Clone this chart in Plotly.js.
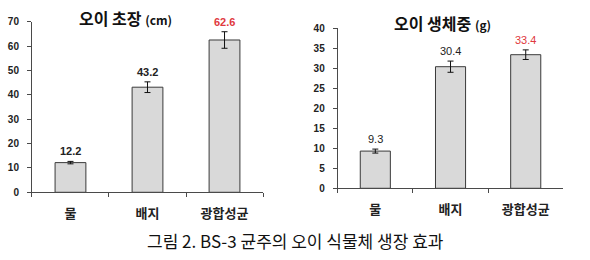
<!DOCTYPE html>
<html>
<head>
<meta charset="utf-8">
<script src="https://cdn.plot.ly/plotly-3.0.1.min.js"></script>
<style>
  html, body { margin: 0; padding: 0; background: #fff; }
  #chart { width: 590px; height: 260px; }
</style>
</head>
<body>
<div id="chart"></div>
<script>
// Treatments
const categories = ['물', '배지', '광합성균'];

// Cucumber plant height (cm) with standard error
const heightValues = [12.2, 43.2, 62.6];
const heightErrors = [0.5, 2.2, 3.4];

// Cucumber fresh weight (g) with standard error
const weightValues = [9.3, 30.4, 33.4];
const weightErrors = [0.5, 1.4, 1.2];

const heightTicks = [0, 10, 20, 30, 40, 50, 60, 70];
const weightTicks = [0, 5, 10, 15, 20, 25, 30, 35, 40];

const barColor = '#d9d9d9';
const edgeColor = '#3a3a3a';
const axisColor = '#4a4a4a';
const highlight = '#e0393e';
const korFont = '"Noto Sans CJK KR", "Noto Sans", sans-serif';
const numFont = 'Arial, "Liberation Sans", sans-serif';

function barTrace(values, errors, xa, ya) {
  return {
    type: 'bar',
    x: categories,
    y: values,
    xaxis: xa,
    yaxis: ya,
    width: 0.4,
    marker: { color: barColor, line: { color: edgeColor, width: 1 } },
    error_y: { type: 'data', array: errors, visible: true, color: '#111', thickness: 1, width: 3 },
    hoverinfo: 'skip'
  };
}

function valueLabels(values, errors, xref, yref, bold) {
  const last = values.length - 1;
  return values.map((v, i) => ({
    x: categories[i],
    y: v + errors[i],
    xref: xref,
    yref: yref,
    text: bold ? '<b>' + v.toFixed(1) + '</b>' : v.toFixed(1),
    showarrow: false,
    yanchor: 'bottom',
    yshift: 2,
    font: { family: numFont, size: 11, color: i === last ? highlight : '#222' }
  }));
}

const xBase = {
  type: 'category',
  showline: true,
  linecolor: axisColor,
  linewidth: 1,
  ticks: 'outside',
  tickson: 'boundaries',
  ticklen: 4,
  tickcolor: axisColor,
  showgrid: false,
  zeroline: false,
  ticklabelstandoff: 9,
  tickfont: { family: korFont, size: 13, color: '#222', weight: 'bold' },
  fixedrange: true
};

const yBase = {
  showline: true,
  linecolor: axisColor,
  linewidth: 1,
  ticks: 'outside',
  ticklen: 4,
  tickcolor: axisColor,
  showgrid: false,
  zeroline: false,
  ticklabelstandoff: 6,
  tickfont: { family: numFont, size: 10, color: '#222', weight: 'bold' },
  fixedrange: true
};

const layout = {
  width: 590,
  height: 260,
  margin: { l: 0, r: 0, t: 0, b: 0 },
  paper_bgcolor: '#ffffff',
  plot_bgcolor: '#ffffff',
  showlegend: false,
  bargap: 0.6,
  xaxis: Object.assign({}, xBase, { domain: [0.0542, 0.4458], anchor: 'y' }),
  yaxis: Object.assign({}, yBase, {
    domain: [0.2604, 0.9154], anchor: 'x', range: [0, 70],
    tickvals: heightTicks, ticktext: heightTicks.map(String)
  }),
  xaxis2: Object.assign({}, xBase, { domain: [0.5724, 0.9548], anchor: 'y2' }),
  yaxis2: Object.assign({}, yBase, {
    domain: [0.2758, 0.8912], anchor: 'x2', range: [0, 40],
    tickvals: weightTicks, ticktext: weightTicks.map(String)
  }),
  annotations: [
    ...valueLabels(heightValues, heightErrors, 'x', 'y', true),
    ...valueLabels(weightValues, weightErrors, 'x2', 'y2', false),
    {
      x: 125 / 590, y: 1 - 18 / 260, xref: 'paper', yref: 'paper',
      text: '<b>오이 초장 <span style="font-size:12px">(cm)</span></b>',
      showarrow: false, xanchor: 'center', yanchor: 'middle',
      font: { family: korFont, size: 16, color: '#111' }
    },
    {
      x: 442 / 590, y: 1 - 23 / 260, xref: 'paper', yref: 'paper',
      text: '<b>오이 생체중 <span style="font-size:12px">(g)</span></b>',
      showarrow: false, xanchor: 'center', yanchor: 'middle',
      font: { family: korFont, size: 16, color: '#111' }
    },
    {
      x: 295 / 590, y: 1 - 240 / 260, xref: 'paper', yref: 'paper',
      text: '그림 2. BS-3 균주의 오이 식물체 생장 효과',
      showarrow: false, xanchor: 'center', yanchor: 'middle',
      font: { family: korFont, size: 17, color: '#111' }
    }
  ]
};

Plotly.newPlot('chart', [
  barTrace(heightValues, heightErrors, 'x', 'y'),
  barTrace(weightValues, weightErrors, 'x2', 'y2')
], layout, { displayModeBar: false, staticPlot: true });
</script>
</body>
</html>
